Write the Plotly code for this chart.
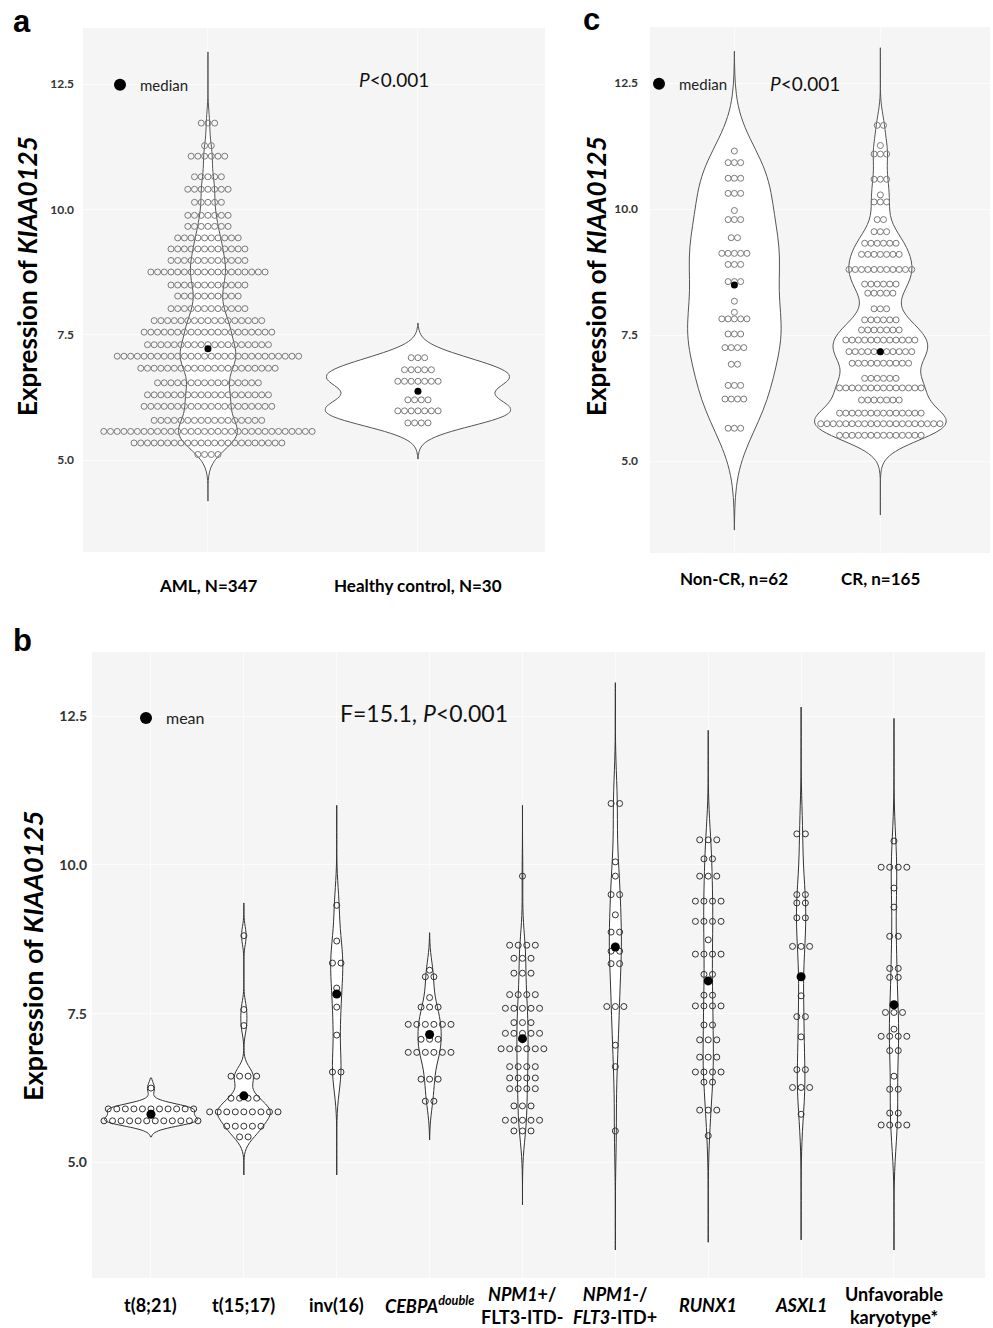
import numpy as np
import plotly.graph_objects as go

W, H = 993, 1328

# ---------------- data ----------------
tick_vals = [5.0, 7.5, 10.0, 12.5]
tick_text = ["5.0", "7.5", "10.0", "12.5"]

# panel a
a_categories = ["AML, N=347", "Healthy control, N=30"]
aml_levels = [11.72, 11.27, 11.06, 10.65, 10.40, 10.14, 9.88, 9.66, 9.43, 9.21, 8.98, 8.75,
              8.49, 8.27, 8.02, 7.78, 7.55, 7.30, 7.07, 6.83, 6.54, 6.30, 6.07, 5.79, 5.57,
              5.34, 5.11]
aml_counts = [3, 2, 6, 5, 7, 5, 7, 7, 10, 12, 12, 18, 12, 10, 12, 17, 20, 19, 28, 21, 16,
              19, 20, 17, 32, 23, 4]
healthy_levels = [7.04, 6.80, 6.57, 6.20, 5.98, 5.74]
healthy_counts = [3, 5, 7, 4, 7, 4]
a_medians = [7.22, 6.37]

# panel b
b_categories = ["t(8;21)", "t(15;17)", "inv(16)", "<i>CEBPA</i><sup><i>double</i></sup>",
                "<i>NPM1</i>+/<br>FLT3-ITD-", "<i>NPM1</i>-/<br><i>FLT3</i>-ITD+",
                "<i>RUNX1</i>", "<i>ASXL1</i>", "Unfavorable<br>karyotype*"]
t821_levels = [6.25, 5.90, 5.70]
t821_counts = [1, 11, 12]
t1517_levels = [8.81, 7.57, 7.30, 6.45, 6.08, 5.85, 5.61, 5.43]
t1517_counts = [1, 1, 1, 4, 4, 9, 5, 2]
inv16_levels = [9.32, 8.72, 8.35, 7.93, 7.61, 7.14, 6.52]
inv16_counts = [1, 1, 2, 1, 1, 1, 2]
cebpa_levels = [8.23, 8.12, 7.77, 7.61, 7.32, 7.07, 6.85, 6.40, 6.03]
cebpa_counts = [1, 2, 1, 3, 6, 3, 6, 3, 2]
npm1p_levels = [9.81, 8.65, 8.43, 8.18, 7.82, 7.59, 7.35, 7.17, 6.91, 6.61, 6.42, 6.24, 5.95,
                5.71, 5.53]
npm1p_counts = [1, 4, 3, 3, 4, 5, 3, 5, 6, 4, 4, 4, 3, 5, 3]
npm1n_levels = [11.03, 10.05, 9.81, 9.50, 9.16, 8.87, 8.55, 8.34, 7.62, 6.97, 6.61, 5.53]
npm1n_counts = [2, 1, 1, 2, 1, 2, 2, 2, 3, 1, 1, 1]
runx1_levels = [10.42, 10.10, 9.81, 9.39, 9.05, 8.74, 8.50, 8.16, 7.81, 7.63, 7.31, 7.06, 6.77,
                6.52, 6.35, 5.88, 5.45]
runx1_counts = [3, 2, 3, 4, 4, 1, 4, 2, 2, 4, 2, 3, 3, 4, 2, 3, 1]
asxl1_levels = [10.52, 9.50, 9.36, 9.11, 8.63, 7.80, 7.45, 7.11, 6.56, 6.26, 5.81]
asxl1_counts = [2, 2, 2, 2, 3, 1, 2, 1, 2, 3, 1]
unfav_levels = [10.40, 9.96, 9.61, 9.29, 8.80, 8.26, 8.11, 7.52, 7.24, 7.12, 6.88, 6.45, 6.23,
                5.83, 5.63]
unfav_counts = [1, 4, 1, 1, 2, 2, 2, 3, 1, 4, 2, 1, 2, 2, 4]
b_means = [5.81, 6.12, 7.83, 7.15, 7.08, 8.62, 8.05, 8.12, 7.65]

# panel c
c_categories = ["Non-CR, n=62", "CR, n=165"]
noncr_levels = [11.15, 10.92, 10.61, 10.31, 9.97, 9.79, 9.43, 9.12, 8.90, 8.56, 8.17, 7.95,
                7.82, 7.52, 7.25, 6.92, 6.50, 6.23, 5.65]
noncr_counts = [1, 3, 3, 3, 1, 3, 2, 5, 3, 3, 1, 1, 5, 3, 4, 2, 3, 4, 3]
cr_levels = [11.66, 11.26, 11.09, 10.59, 10.28, 10.14, 9.79, 9.55, 9.32, 9.10, 8.80, 8.51,
             8.33, 8.02, 7.80, 7.60, 7.40, 7.17, 6.94, 6.64, 6.45, 6.21, 5.95, 5.74, 5.51]
cr_counts = [2, 1, 3, 3, 1, 3, 2, 3, 6, 7, 11, 6, 5, 3, 6, 7, 12, 11, 10, 6, 14, 7, 14, 20, 14]
c_medians = [8.49, 7.17]

a_groups = [(aml_levels, aml_counts), (healthy_levels, healthy_counts)]
b_groups = [(t821_levels, t821_counts), (t1517_levels, t1517_counts), (inv16_levels, inv16_counts),
            (cebpa_levels, cebpa_counts), (npm1p_levels, npm1p_counts), (npm1n_levels, npm1n_counts),
            (runx1_levels, runx1_counts), (asxl1_levels, asxl1_counts), (unfav_levels, unfav_counts)]
c_groups = [(noncr_levels, noncr_counts), (cr_levels, cr_counts)]

# ---------------- styles ----------------
a_violin_style = [dict(bw=0.25, span=[4.18, 13.14], width=0.28),
                  dict(bw=0.22, span=[5.02, 7.73], width=0.88)]
b_violin_style = [dict(bw=0.09, span=[5.43, 6.42], width=1.0),
                  dict(bw=0.15, span=[4.79, 9.36], width=0.57),
                  dict(bw=0.35, span=[4.79, 11.0], width=0.13),
                  dict(bw=0.25, span=[5.38, 8.86], width=0.25),
                  dict(bw=0.35, span=[4.29, 11.0], width=0.12),
                  dict(bw=0.5, span=[3.53, 13.06], width=0.13),
                  dict(bw=0.45, span=[3.66, 12.26], width=0.11),
                  dict(bw=0.5, span=[3.70, 12.65], width=0.10),
                  dict(bw=0.5, span=[3.53, 12.46], width=0.10)]
c_violin_style = [dict(bw=0.65, span=[3.63, 13.13], width=0.64),
                  dict(bw=0.27, span=[3.93, 13.2], width=0.9)]

FONT = "Lato"


def fx(p):
    return p / W


def fy(p):
    return 1 - p / H


def dot_xy(pos, levels, counts, step):
    xs, ys = [], []
    for v, n in zip(levels, counts):
        for i in range(n):
            xs.append(pos + (i - (n - 1) / 2) * step)
            ys.append(v)
    return xs, ys


fig = go.Figure()


def add_panel(groups, styles, medians, xa, ya, step, dot_color, dot_size, line_color,
              med_size, med_name, legend_id):
    for i, ((lv, ct), st) in enumerate(zip(groups, styles)):
        vals = np.repeat(lv, ct)
        fig.add_trace(go.Violin(
            x=np.full(len(vals), i), y=vals, bandwidth=st["bw"], span=st["span"],
            spanmode="manual", width=st["width"], scalemode="width", points=False,
            box_visible=False, meanline_visible=False,
            line=dict(color=line_color, width=1), fillcolor="white",
            hoverinfo="skip", showlegend=False, xaxis=xa, yaxis=ya))
    for i, (lv, ct) in enumerate(groups):
        xs, ys = dot_xy(i, lv, ct, step)
        fig.add_trace(go.Scatter(
            x=xs, y=ys, mode="markers", showlegend=False, xaxis=xa, yaxis=ya,
            marker=dict(symbol="circle-open", size=dot_size, color=dot_color,
                        line=dict(width=1, color=dot_color))))
    fig.add_trace(go.Scatter(
        x=list(range(len(medians))), y=medians, mode="markers", name=med_name,
        legend=legend_id, showlegend=True, xaxis=xa, yaxis=ya,
        marker=dict(symbol="circle", size=med_size, color="black")))


add_panel(a_groups, a_violin_style, a_medians, "x", "y", 0.032, "#7a7a7a", 6, "#555555",
          7, "median", "legend")
add_panel(b_groups, b_violin_style, b_means, "x2", "y2", 0.092, "#333333", 6, "#333333",
          9, "mean", "legend2")
add_panel(c_groups, c_violin_style, c_medians, "x3", "y3", 0.043, "#7a7a7a", 6, "#555555",
          7, "median", "legend3")

BG = "#f5f5f5"
GRID = "#fcfcfc"


def xaxis_cfg(dom, rng, n):
    return dict(domain=dom, range=rng, tickvals=list(range(n)), showticklabels=False,
                showgrid=True, gridcolor=GRID, gridwidth=1, zeroline=False, ticks="",
                showline=False, fixedrange=True)


def yaxis_cfg(dom, rng, anchor, standoff, size):
    return dict(domain=dom, range=rng, tickvals=tick_vals, ticktext=tick_text,
                showgrid=True, gridcolor=GRID, gridwidth=1, zeroline=False, ticks="",
                showline=False, anchor=anchor, ticklabelstandoff=standoff,
                tickfont=dict(family=FONT, size=size, color="#333333", weight="bold"))


fig.update_layout(
    width=W, height=H, autosize=False,
    margin=dict(l=0, r=0, t=0, b=0),
    paper_bgcolor="white", plot_bgcolor=BG,
    violinmode="overlay",
    xaxis=dict(xaxis_cfg([fx(83), fx(545)], [-0.595, 1.605], 2), anchor="y"),
    yaxis=yaxis_cfg([fy(552), fy(28)], [3.165, 13.617], "x", 8, 12),
    xaxis2=dict(xaxis_cfg([fx(92), fx(985)], [-0.635, 8.98], 9), anchor="y2"),
    yaxis2=yaxis_cfg([fy(1278), fy(652)], [3.06, 13.575], "x2", 4, 14),
    xaxis3=dict(xaxis_cfg([fx(650), fx(990)], [-0.578, 1.751], 2), anchor="y3"),
    yaxis3=yaxis_cfg([fy(553), fy(27)], [3.175, 13.611], "x3", 11, 12),
    legend=dict(x=fx(100), y=fy(85), xanchor="left", yanchor="middle",
                bgcolor="rgba(0,0,0,0)", itemsizing="constant",
                font=dict(family=FONT, size=15, color="#222")),
    legend2=dict(x=fx(126), y=fy(718), xanchor="left", yanchor="middle",
                 bgcolor="rgba(0,0,0,0)", itemsizing="constant",
                 font=dict(family=FONT, size=16, color="#222")),
    legend3=dict(x=fx(639), y=fy(84), xanchor="left", yanchor="middle",
                 bgcolor="rgba(0,0,0,0)", itemsizing="constant",
                 font=dict(family=FONT, size=15, color="#222")),
)

ann = []
# panel letters
for letter, px, py in [("a", 22, 22), ("b", 22, 640), ("c", 591, 20)]:
    ann.append(dict(text=f"<b>{letter}</b>", x=fx(px), y=fy(py), xref="paper", yref="paper",
                    showarrow=False, xanchor="center", yanchor="middle",
                    font=dict(family="Liberation Sans", size=31, color="black")))
# statistics
ann.append(dict(text="<i>P</i>&lt;0.001", x=fx(394), y=fy(80), xref="paper", yref="paper",
                showarrow=False, xanchor="center", yanchor="middle",
                font=dict(family=FONT, size=19, color="#111")))
ann.append(dict(text="<i>P</i>&lt;0.001", x=fx(805), y=fy(83), xref="paper", yref="paper",
                showarrow=False, xanchor="center", yanchor="middle",
                font=dict(family=FONT, size=19, color="#111")))
ann.append(dict(text="F=15.1, <i>P</i>&lt;0.001", x=fx(424), y=fy(713), xref="paper",
                yref="paper", showarrow=False, xanchor="center", yanchor="middle",
                font=dict(family=FONT, size=23, color="#111")))
# y titles
for px, py, sz in [(27, 276, 26), (596, 276, 26), (32, 956, 27)]:
    ann.append(dict(text="<b>Expression of <i>KIAA0125</i></b>", x=fx(px), y=fy(py),
                    xref="paper", yref="paper", showarrow=False, textangle=-90,
                    xanchor="center", yanchor="middle",
                    font=dict(family=FONT, size=sz, color="black")))
# category labels
for i, c in enumerate(a_categories):
    ann.append(dict(text=f"<b>{c}</b>", x=i, y=fy(585), xref="x", yref="paper",
                    showarrow=False, yanchor="middle",
                    font=dict(family=FONT, size=17, color="black")))
for i, c in enumerate(c_categories):
    ann.append(dict(text=f"<b>{c}</b>", x=i, y=fy(578), xref="x3", yref="paper",
                    showarrow=False, yanchor="middle",
                    font=dict(family=FONT, size=17, color="black")))
for i, c in enumerate(b_categories):
    ann.append(dict(text=f"<b>{c}</b>", x=i, y=fy(1305), xref="x2", yref="paper",
                    showarrow=False, yanchor="middle",
                    font=dict(family=FONT, size=18, color="black")))
fig.update_layout(annotations=ann)

fig.write_html("out.html", config={"displayModeBar": False},
               post_script="document.body.style.margin='0';")
